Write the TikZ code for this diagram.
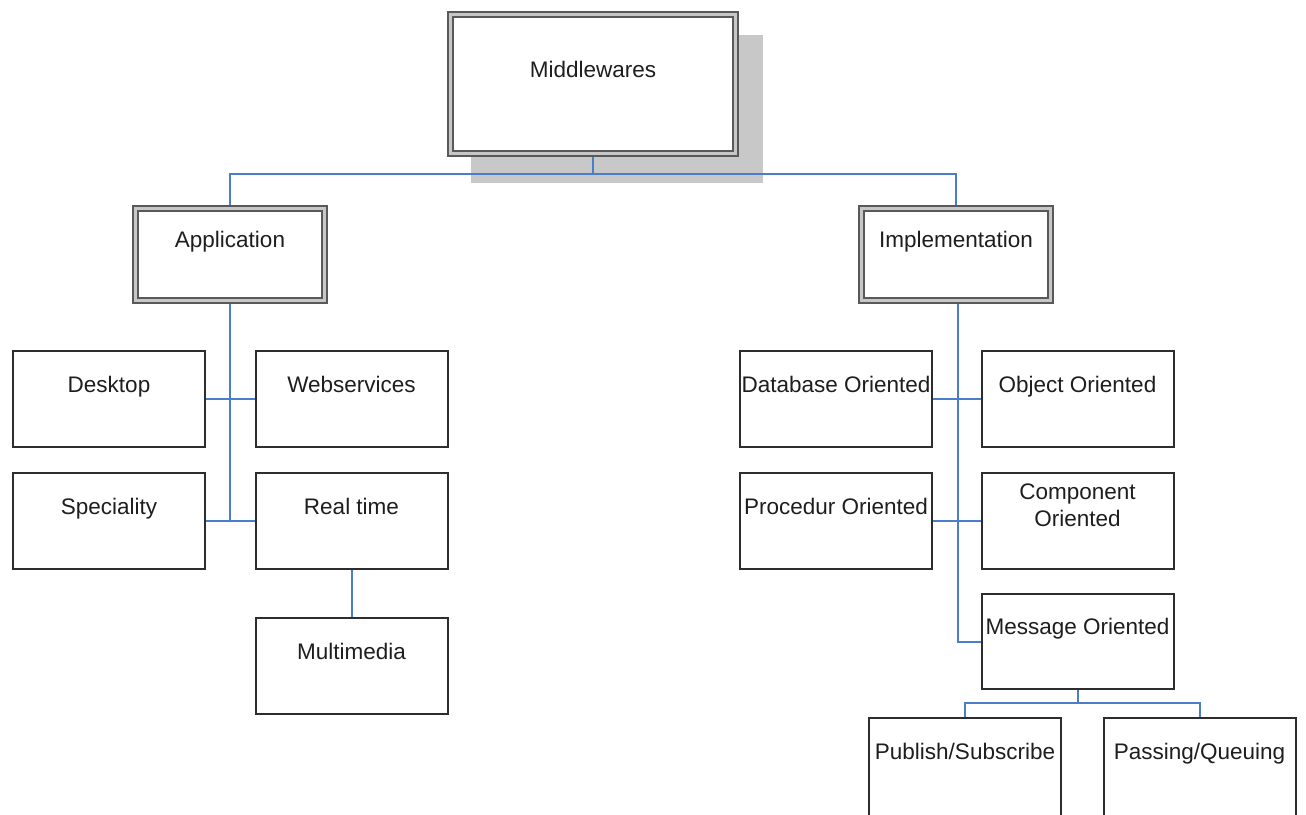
\documentclass[tikz,border=0pt]{standalone}
\usepackage{fontspec}
\setmainfont{Liberation Sans}
\usetikzlibrary{backgrounds}
\definecolor{connblue}{RGB}{74,126,200}
\definecolor{shadowgray}{RGB}{200,200,200}
\definecolor{boxline}{RGB}{45,45,45}
\definecolor{labeltext}{RGB}{30,30,30}
\begin{document}
\begin{tikzpicture}[x=1pt,y=-1pt,
  box/.style={draw=boxline, line width=2pt, fill=white, inner sep=0pt,
    minimum width=192pt, minimum height=96pt},
  topbox/.style={draw=black!65, line width=2.4pt, double=black!22,
    double distance=2.2pt, fill=white, inner sep=0pt},
  lbl/.style={anchor=base, text=labeltext, inner sep=0pt, align=center,
    font=\fontsize{22.5}{27}\selectfont},
  conn/.style={draw=connblue, line width=2pt}]
\useasboundingbox (0,0) rectangle (1306,814);
\clip (0,0) rectangle (1306,814);

% root and the two main branches
\node[topbox, minimum width=285pt, minimum height=139pt] (mw) at (593,84) {};
\node[topbox, minimum width=189pt, minimum height=92pt] (app) at (230,254.5) {};
\node[topbox, minimum width=189pt, minimum height=92pt] (impl) at (956,254.5) {};

% application kinds
\node[box] (desk) at (109,399) {};
\node[box] (web)  at (351.5,399) {};
\node[box] (spec) at (109,521) {};
\node[box] (real) at (351.5,521) {};
\node[box] (mm)   at (351.5,666) {};

% implementation kinds
\node[box] (db)   at (836,399) {};
\node[box] (obj)  at (1077.5,399) {};
\node[box] (proc) at (836,521) {};
\node[box] (comp) at (1077.5,521) {};
\node[box, minimum height=95pt] (msg) at (1077.5,641.5) {};
% the last row runs past the lower edge of the page
\node[box, minimum height=110pt] (pub)  at (965,773) {};
\node[box, minimum height=110pt] (pass) at (1199.5,773) {};

% box captions
\node[lbl] (tmw)   at ([yshift=7pt]mw.center)   {Middlewares};
\node[lbl] (tapp)  at ([yshift=7pt]app.center)  {Application};
\node[lbl] (timpl) at ([yshift=7pt]impl.center) {Implementation};
\node[lbl] (tdesk) at ([yshift=7pt]desk.center) {Desktop};
\node[lbl] (tweb)  at ([yshift=7pt]web.center)  {Webservices};
\node[lbl] (tspec) at ([yshift=7pt]spec.center) {Speciality};
\node[lbl] (treal) at ([yshift=7pt]real.center) {Real time};
\node[lbl] (tmm)   at ([yshift=7pt]mm.center)   {Multimedia};
\node[lbl] (tdb)   at ([yshift=7pt]db.center)   {Database Oriented};
\node[lbl] (tobj)  at ([yshift=7pt]obj.center)  {Object Oriented};
\node[lbl] (tproc) at ([yshift=7pt]proc.center) {Procedur Oriented};
\node[lbl] (tcomp) at ([yshift=-5pt]comp.center) {Component\\Oriented};
\node[lbl] (tmsg)  at ([yshift=7pt]msg.center)  {Message Oriented};
\node[lbl] (tpub)  at ([yshift=-42pt]pub.north) {Publish/Subscribe};
\node[lbl] (tpass) at ([yshift=-42pt]pass.north) {Passing/Queuing};

\begin{scope}[on background layer]
  % drop shadow of the root box
  \fill[shadowgray] (471,35) rectangle (763,183);
  % tree connectors
  \draw[conn] (mw.south) -- ++(0,19) -| (app.north);
  \draw[conn] (mw.south) -- ++(0,19) -| (impl.north);
  \draw[conn] (app.south) -- (app.south |- spec.east);
  \draw[conn] (desk.east) -- (web.west);
  \draw[conn] (spec.east) -- (real.west);
  \draw[conn] (real.south) -- (mm.north);
  \draw[conn] ([xshift=2pt]impl.south) |- (msg.west);
  \draw[conn] (db.east) -- (obj.west);
  \draw[conn] (proc.east) -- (comp.west);
  \draw[conn] (msg.south) -- ++(0,13) -| (pub.north);
  \draw[conn] (msg.south) -- ++(0,13) -| (pass.north);
\end{scope}
\end{tikzpicture}
\end{document}
